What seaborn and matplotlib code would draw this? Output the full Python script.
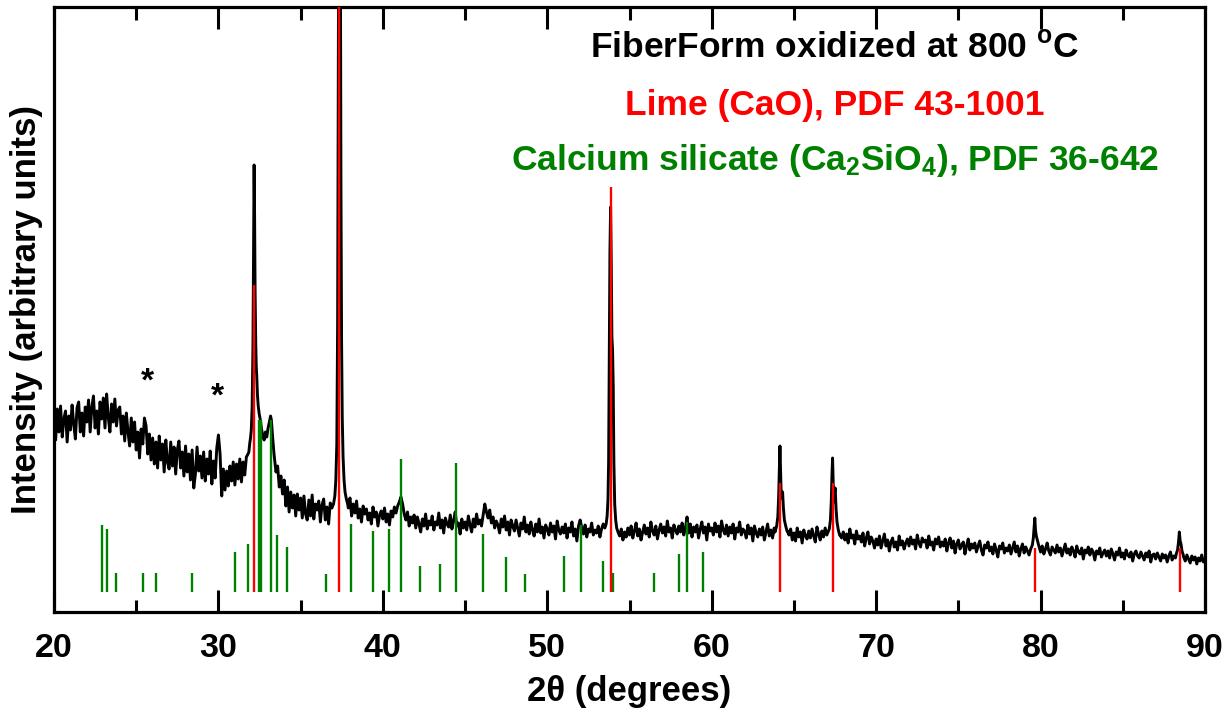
import numpy as np
import pandas as pd
import matplotlib
matplotlib.use("Agg")
import matplotlib.pyplot as plt
import seaborn as sns

# ---------------- data ----------------
# measured pattern on a 0.1 deg grid starting at 20 deg (arbitrary units)
grid_start = 20.0
grid_step = 0.1
bg_intensity = [
    198, 172, 203, 180, 206, 175, 193, 201, 170, 196,   # 20
    182, 207, 188, 173, 204, 210, 180, 199, 176, 205,   # 21
    190, 212, 180, 205, 216, 184, 201, 178, 210, 193,   # 22
    214, 184, 218, 195, 180, 208, 190, 213, 186, 202,   # 23
    205, 178, 196, 171, 199, 180, 166, 194, 170, 190,   # 24
    162, 180, 154, 183, 168, 194, 186, 158, 178, 152,   # 25
    174, 148, 170, 144, 176, 152, 168, 140, 172, 150,   # 26
    143, 170, 146, 165, 138, 162, 171, 144, 160, 136,   # 27
    166, 140, 158, 132, 162, 124, 138, 165, 141, 156,   # 28
    134, 160, 131, 153, 138, 161, 128, 151, 134, 164,   # 29
    177, 158, 116, 143, 122, 141, 126, 146, 131, 150,   # 30
    127, 148, 133, 153, 130, 150, 137, 155, 158, 165,   # 31
    182, 447, 246, 206, 192, 183, 176, 172, 180, 175,   # 32
    184, 190, 192, 174, 158, 140, 146, 125, 136, 118,   # 33
    132, 106, 125, 100, 120, 104, 117, 96, 118, 102,    # 34
    114, 94, 116, 98, 92, 112, 96, 117, 93, 108,        # 35
    102, 111, 90, 107, 113, 92, 105, 88, 109, 104,      # 36
    108, 116, 168, 520, 820, 270, 155, 120, 113, 104,   # 37
    114, 96, 108, 99, 111, 94, 103, 90, 106, 98,        # 38
    103, 92, 99, 88, 105, 95, 100, 86, 97, 101,         # 39
    93, 104, 90, 98, 87, 101, 95, 105, 99, 106,         # 40
    110, 115, 108, 98, 92, 100, 86, 95, 89, 97,         # 41
    84, 95, 88, 80, 93, 86, 98, 83, 91, 87,             # 42
    96, 82, 90, 87, 99, 84, 92, 79, 94, 88,             # 43
    85, 97, 83, 91, 100, 86, 89, 78, 93, 84,            # 44
    90, 82, 96, 87, 80, 93, 85, 98, 88, 92,             # 45
    86, 97, 108, 100, 94, 102, 89, 95, 84, 91,          # 46
    87, 79, 93, 85, 96, 82, 90, 77, 92, 86,             # 47
    81, 92, 84, 76, 89, 83, 95, 80, 87, 78,             # 48
    90, 82, 76, 88, 80, 93, 79, 85, 74, 87,             # 49
    83, 77, 89, 80, 86, 73, 91, 82, 78, 85,             # 50
    79, 88, 74, 84, 80, 90, 76, 83, 71, 86,             # 51
    92, 84, 78, 87, 75, 83, 80, 89, 77, 82,             # 52
    79, 86, 75, 83, 88, 84, 96, 150, 360, 405,          # 53
    225, 108, 84, 80, 76, 83, 72, 80, 75, 84,           # 54
    77, 86, 74, 81, 89, 76, 83, 72, 80, 87,             # 55
    78, 84, 75, 90, 81, 77, 86, 73, 82, 88,             # 56
    79, 85, 76, 91, 80, 84, 74, 87, 82, 78,             # 57
    86, 80, 89, 77, 84, 95, 79, 88, 75, 85,             # 58
    80, 87, 74, 83, 90, 79, 85, 72, 88, 81,             # 59
    84, 77, 89, 80, 86, 75, 91, 82, 78, 87,             # 60
    76, 85, 79, 88, 73, 84, 80, 90, 77, 83,             # 61
    81, 74, 87, 78, 84, 71, 86, 79, 75, 83,             # 62
    77, 85, 72, 80, 88, 76, 82, 74, 84, 86,             # 63
    95, 142, 114, 120, 92, 86, 81, 77, 83, 72,          # 64
    79, 71, 84, 75, 80, 69, 82, 76, 73, 81,             # 65
    74, 83, 76, 70, 85, 78, 72, 81, 75, 84,             # 66
    77, 83, 92, 154, 110, 124, 90, 82, 77, 74,          # 67
    80, 72, 78, 69, 83, 74, 77, 68, 81, 73,             # 68
    76, 70, 79, 66, 74, 80, 68, 75, 71, 64,             # 69
    73, 67, 76, 64, 71, 78, 66, 72, 61, 70,             # 70
    74, 65, 70, 62, 76, 67, 71, 63, 69, 73,             # 71
    66, 75, 68, 72, 63, 77, 69, 65, 74, 70,             # 72
    72, 64, 76, 67, 70, 62, 73, 68, 75, 65,             # 73
    70, 66, 73, 61, 69, 74, 64, 71, 59, 68,             # 74
    72, 63, 67, 70, 58, 66, 73, 62, 68, 64,             # 75
    69, 60, 66, 71, 62, 57, 67, 64, 70, 61,             # 76
    65, 58, 68, 62, 55, 66, 63, 69, 59, 64,             # 77
    61, 67, 58, 64, 70, 60, 66, 56, 63, 68,             # 78
    59, 65, 61, 57, 63, 68, 94, 76, 67, 63,             # 79
    60, 66, 58, 63, 69, 61, 57, 65, 62, 59,             # 80
    67, 60, 64, 56, 62, 68, 59, 63, 57, 65,             # 81
    61, 55, 66, 60, 58, 64, 53, 62, 59, 65,             # 82
    57, 63, 60, 52, 61, 58, 64, 55, 59, 62,             # 83
    56, 61, 54, 63, 58, 52, 60, 57, 64, 55,             # 84
    59, 53, 62, 57, 55, 60, 51, 58, 61, 56,             # 85
    54, 60, 56, 52, 59, 55, 61, 50, 57, 58,             # 86
    53, 59, 55, 51, 58, 54, 57, 50, 56, 60,             # 87
    52, 56, 54, 62, 80, 68, 60, 55, 51, 57,             # 88
    53, 49, 56, 52, 55, 48, 54, 51, 57, 50,             # 89
    52,                                                 # 90
]

# finely sampled diffraction peaks (2theta, intensity)
peak32_x = [31.85, 31.90, 31.95, 32.00, 32.05, 32.10, 32.14, 32.17, 32.20, 32.23,
            32.27, 32.30, 32.33, 32.37, 32.42, 32.48, 32.55, 32.62, 32.70, 32.78,
            32.86, 32.94, 33.02, 33.10, 33.17, 33.22, 33.30, 33.38, 33.45]
peak32_y = [160, 168, 174, 182, 205, 265, 370, 447, 395, 320,
            268, 246, 236, 218, 206, 198, 192, 183, 176, 172,
            180, 175, 184, 190, 196, 192, 174, 158, 148]
peak37_x = [36.90, 37.00, 37.08, 37.14, 37.20, 37.25, 37.29, 37.33, 37.37, 37.41,
            37.45, 37.49, 37.53, 37.58, 37.64, 37.70, 37.78, 37.86]
peak37_y = [104, 108, 116, 132, 168, 290, 520, 820, 900, 720,
            430, 270, 195, 155, 132, 120, 113, 108]
peak54_x = [53.50, 53.58, 53.64, 53.69, 53.73, 53.77, 53.81, 53.85, 53.89, 53.93,
            53.97, 54.01, 54.05, 54.10, 54.16, 54.22, 54.30]
peak54_y = [84, 88, 96, 112, 150, 250, 360, 405, 350, 275,
            262, 225, 150, 108, 92, 84, 80]
peak64_x = [63.85, 63.95, 64.02, 64.07, 64.11, 64.15, 64.19, 64.23, 64.27, 64.31,
            64.36, 64.42, 64.50, 64.58]
peak64_y = [80, 86, 95, 115, 142, 166, 140, 114, 119, 120, 104, 92, 86, 81]
peak67_x = [67.05, 67.15, 67.22, 67.27, 67.31, 67.35, 67.39, 67.43, 67.47, 67.51,
            67.56, 67.62, 67.70, 67.78]
peak67_y = [79, 83, 92, 110, 135, 154, 128, 110, 120, 124, 104, 90, 82, 77]
peak80_x = [79.40, 79.50, 79.56, 79.61, 79.65, 79.69, 79.74, 79.80, 79.88, 79.95]
peak80_y = [63, 67, 74, 86, 94, 82, 76, 72, 67, 63]
peak88_x = [88.25, 88.33, 88.39, 88.44, 88.49, 88.54, 88.60, 88.68]
peak88_y = [58, 62, 70, 80, 71, 68, 61, 57]

# reference patterns (stick positions and heights)
cao_pos = [32.17, 37.35, 53.85, 64.15, 67.35, 79.65, 88.45]
cao_height = [307, 900, 405, 109, 109, 44, 44]
ca2sio4_pos = [22.90, 23.20, 23.77, 25.44, 26.19, 28.42, 30.98, 31.77, 32.45, 32.60,
               33.20, 33.55, 34.20, 36.55, 38.06, 39.42, 40.37, 41.08, 42.28, 43.46,
               44.43, 46.11, 47.47, 48.67, 51.04, 52.02, 53.38, 54.00, 56.50, 58.02,
               58.50, 59.50]
ca2sio4_height = [67, 63, 19, 19, 19, 19, 40, 48, 172, 172,
                  172, 57, 45, 18, 68, 61, 63, 133, 26, 28,
                  129, 58, 35, 18, 36, 67, 31, 19, 19, 38,
                  70, 40]
stick_base = 20

star_pos = [25.66, 29.92]
star_y = [221, 206]

title_lines = ["FiberForm oxidized at 800 $^{\\mathrm{o}}$C",
               "Lime (CaO), PDF 43-1001",
               "Calcium silicate (Ca$_{2}$SiO$_{4}$), PDF 36-642"]
title_colors = ["black", "#ff0000", "#008000"]
title_ypos = [0.932, 0.838, 0.747]

xticks = [20, 30, 40, 50, 60, 70, 80, 90]

# ---------------- assemble pattern ----------------
grid_x = np.round(grid_start + grid_step * np.arange(len(bg_intensity)), 2)
grid_y = np.array(bg_intensity, dtype=float)
peaks = [(peak32_x, peak32_y), (peak37_x, peak37_y), (peak54_x, peak54_y),
         (peak64_x, peak64_y), (peak67_x, peak67_y), (peak80_x, peak80_y),
         (peak88_x, peak88_y)]
keep = np.ones(len(grid_x), dtype=bool)
for px_, _ in peaks:
    keep &= ~((grid_x >= px_[0] - 1e-9) & (grid_x <= px_[-1] + 1e-9))
xs = np.concatenate([grid_x[keep]] + [np.array(p[0], float) for p in peaks])
ys = np.concatenate([grid_y[keep]] + [np.array(p[1], float) for p in peaks])
order = np.argsort(xs)
df = pd.DataFrame({"two_theta": xs[order], "intensity": ys[order]})

# ---------------- style ----------------
sns.set_theme(style="ticks")
plt.rcParams["font.family"] = ["Liberation Sans", "DejaVu Sans"]
plt.rcParams["font.weight"] = "bold"
plt.rcParams["text.color"] = "black"
plt.rcParams["axes.labelcolor"] = "black"
plt.rcParams["xtick.color"] = "black"
plt.rcParams["ytick.color"] = "black"
plt.rcParams["mathtext.fontset"] = "custom"
plt.rcParams["mathtext.rm"] = "Liberation Sans:bold"
plt.rcParams["mathtext.it"] = "Liberation Sans:bold"
plt.rcParams["mathtext.bf"] = "Liberation Sans:bold"

fig = plt.figure(figsize=(12.29, 7.19), dpi=100)
ax = fig.add_axes([54 / 1229, (719 - 612) / 719, (1205 - 54) / 1229, 605 / 719])

sns.lineplot(data=df, x="two_theta", y="intensity", ax=ax, color="black",
             linewidth=2.1, estimator=None, sort=False, zorder=2)

ax.vlines(ca2sio4_pos, stick_base, [stick_base + h for h in ca2sio4_height],
          colors="#008000", linewidth=1.7, zorder=3)
ax.vlines(cao_pos, stick_base, [stick_base + h for h in cao_height],
          colors="#ff0000", linewidth=1.7, zorder=4)

for xp, yp in zip(star_pos, star_y):
    ax.text(xp, yp, "*", ha="center", va="baseline", fontsize=24,
            fontweight="bold", color="black")

for t, c, yy in zip(title_lines, title_colors, title_ypos):
    ax.text(0.6786, yy, t, transform=ax.transAxes,
            ha="center", va="center", fontsize=25.5, fontweight="bold", color=c)

ax.set_xlim(20, 90)
ax.set_ylim(0, 605)
ax.set_xticks(xticks)
ax.set_xticklabels([str(v) for v in xticks], fontsize=24.5, fontweight="bold",
                   color="black")
ax.set_xticks([25, 35, 45, 55, 65, 75, 85], minor=True)
ax.set_yticks([])
ax.tick_params(axis="x", which="major", direction="in", length=16, width=2.2,
               top=True, bottom=True, pad=15, color="black", labelcolor="black")
ax.tick_params(axis="x", which="minor", direction="in", length=9, width=2.2,
               top=True, bottom=True, color="black")
for sp in ax.spines.values():
    sp.set_visible(True)
    sp.set_linewidth(2.3)
    sp.set_color("black")

ax.set_xlabel("2θ (degrees)", fontsize=25, fontweight="bold", labelpad=8,
              color="black")
ax.set_ylabel("Intensity (arbitrary units)", fontsize=25, fontweight="bold",
              labelpad=8, color="black")

fig.savefig("out.png", dpi=100)
